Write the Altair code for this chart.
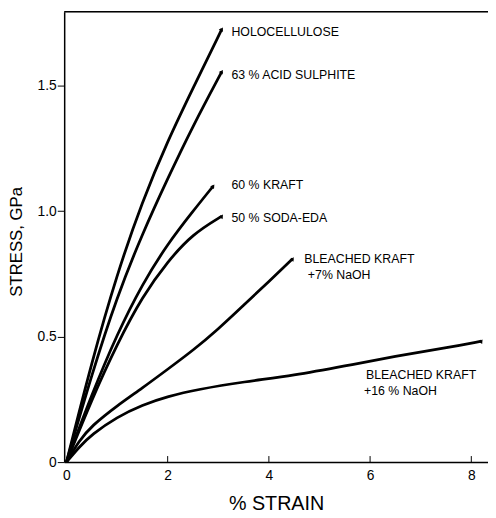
import altair as alt
import pandas as pd

# ---- data ----
holo_x = [0, 0.5, 1.0, 1.5, 2.0, 2.5, 3.07]
holo_y = [0, 0.40, 0.75, 1.04, 1.28, 1.49, 1.725]

acid_x = [0, 0.5, 1.0, 1.5, 2.0, 2.5, 3.07]
acid_y = [0, 0.35, 0.66, 0.91, 1.13, 1.34, 1.556]

kraft_x = [0, 0.5, 1.0, 1.5, 2.0, 2.5, 2.9]
kraft_y = [0, 0.27, 0.51, 0.71, 0.87, 1.0, 1.10]

soda_x = [0, 0.5, 1.0, 1.5, 2.0, 2.5, 3.07]
soda_y = [0, 0.25, 0.47, 0.66, 0.80, 0.91, 0.98]

k7_x = [0, 0.25, 0.5, 1.0, 1.5, 2.0, 2.5, 3.0, 3.5, 4.0, 4.47]
k7_y = [0, 0.085, 0.145, 0.225, 0.295, 0.37, 0.445, 0.53, 0.625, 0.72, 0.81]

k16_x = [0, 0.25, 0.5, 1.0, 1.5, 2.0, 2.6, 3.5, 4.5, 5.5, 6.5, 7.5, 8.2]
k16_y = [0, 0.06, 0.11, 0.18, 0.228, 0.262, 0.29, 0.32, 0.345, 0.383, 0.422, 0.455, 0.482]

series = [
    ("HOLOCELLULOSE", holo_x, holo_y),
    ("63 % ACID SULPHITE", acid_x, acid_y),
    ("60 % KRAFT", kraft_x, kraft_y),
    ("50 % SODA-EDA", soda_x, soda_y),
    ("BLEACHED KRAFT +7% NaOH", k7_x, k7_y),
    ("BLEACHED KRAFT +16% NaOH", k16_x, k16_y),
]

label_text = ["HOLOCELLULOSE", "63 % ACID SULPHITE", "60 % KRAFT", "50 % SODA-EDA",
              "BLEACHED KRAFT", "+7% NaOH", "BLEACHED KRAFT", "+16 % NaOH"]
label_x = [3.26, 3.26, 3.26, 3.26, 4.7, 4.77, 5.92, 5.88]
label_y = [1.714, 1.541, 1.105, 0.972, 0.811, 0.744, 0.347, 0.285]

x_ticks = [0, 2, 4, 6, 8]
y_ticks = [0, 0.5, 1.0, 1.5]

X_DOMAIN = [-0.045, 8.33]
Y_DOMAIN = [0, 1.795]

rows = []
for name, xs, ys in series:
    for i, (a, b) in enumerate(zip(xs, ys)):
        rows.append({"series": name, "strain": a, "stress": b, "order": i})
curves = pd.DataFrame(rows)
ends = pd.DataFrame([{"series": n, "strain": xs[-1], "stress": ys[-1]} for n, xs, ys in series])
labels = pd.DataFrame({"text": label_text, "x": label_x, "y": label_y})
tickdf = pd.DataFrame({"t": x_ticks[1:], "y0": [0.0] * 4, "y1": [0.024] * 4})
topdf = pd.DataFrame({"top": [Y_DOMAIN[1]]})

FONT = "Liberation Sans"

xscale = alt.Scale(domain=X_DOMAIN, nice=False, zero=False)
yscale = alt.Scale(domain=Y_DOMAIN, nice=False)

xaxis = alt.Axis(values=x_ticks, ticks=False, grid=False, labelPadding=7,
                 labelFontSize=14, labelFont=FONT, labelColor="black",
                 domainColor="black", domainWidth=1.5,
                 title="% STRAIN", titleFont=FONT, titleFontSize=20, titleFontWeight="normal",
                 titleColor="black", titleY=48, titleBaseline="alphabetic")
yaxis = alt.Axis(values=y_ticks, tickSize=7, tickColor="black", tickWidth=1, grid=False,
                 labelPadding=1, labelFontSize=14, labelFont=FONT, labelColor="black",
                 labelExpr="datum.value == 0 ? '0' : format(datum.value, '.1f')",
                 domainColor="black", domainWidth=1.5,
                 title="STRESS, GPa", titleFont=FONT, titleFontSize=17, titleFontWeight="normal",
                 titleColor="black", titleAngle=-90, titleX=-43, titleY=233,
                 titleAlign="center", titleBaseline="alphabetic")

lines = alt.Chart(curves).mark_line(color="black", strokeWidth=2.8, interpolate="basis").encode(
    x=alt.X("strain:Q", scale=xscale, axis=xaxis),
    y=alt.Y("stress:Q", scale=yscale, axis=yaxis),
    detail="series:N",
    order="order:Q",
)

endmarks = alt.Chart(ends).mark_point(shape="triangle-up", filled=True, color="black",
                                       size=22, angle=35, opacity=1).encode(
    x=alt.X("strain:Q", scale=xscale),
    y=alt.Y("stress:Q", scale=yscale),
)

texts = alt.Chart(labels).mark_text(align="left", baseline="middle", font=FONT,
                                     fontSize=12.5, color="black").encode(
    x=alt.X("x:Q", scale=xscale),
    y=alt.Y("y:Q", scale=yscale),
    text="text:N",
)

xticks_in = alt.Chart(tickdf).mark_rule(color="black", strokeWidth=1).encode(
    x=alt.X("t:Q", scale=xscale),
    y=alt.Y("y0:Q", scale=yscale),
    y2="y1:Q",
)

top_frame = alt.Chart(topdf).mark_rule(color="black", strokeWidth=1.5).encode(
    y=alt.Y("top:Q", scale=yscale),
)

chart = alt.layer(lines, endmarks, texts, xticks_in, top_frame).properties(
    width=430, height=457,
    autosize=alt.AutoSizeParams(type="none"),
    padding={"left": 57, "top": 0, "right": 0, "bottom": 53},
).configure_view(stroke=None).configure(background="white")

chart.save("out.html", embed_options={"renderer": "svg", "actions": False})
